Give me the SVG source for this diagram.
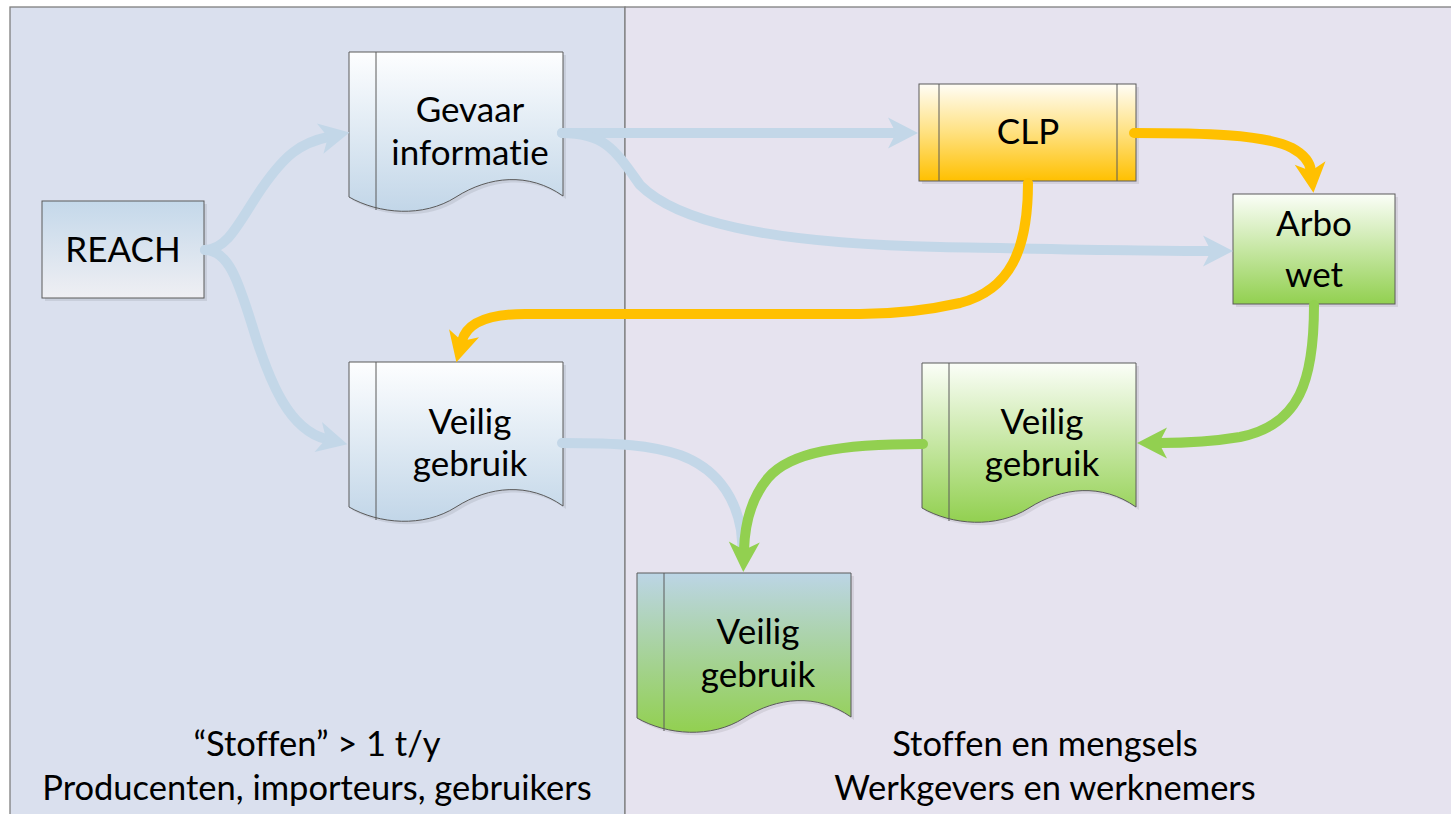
<svg xmlns="http://www.w3.org/2000/svg" width="1451" height="814" viewBox="0 0 1451 814">
<defs>
<linearGradient id="gDocBlue" x1="0" y1="0" x2="0" y2="1"><stop offset="0" stop-color="#fdfeff"/><stop offset="1" stop-color="#c2d6e8"/></linearGradient>
<linearGradient id="gReach" x1="0" y1="0" x2="0" y2="1"><stop offset="0" stop-color="#c4d8ea"/><stop offset="1" stop-color="#efeff3"/></linearGradient>
<linearGradient id="gClp" x1="0" y1="0" x2="0" y2="1"><stop offset="0" stop-color="#fffdf6"/><stop offset="0.5" stop-color="#ffe180"/><stop offset="1" stop-color="#ffc000"/></linearGradient>
<linearGradient id="gGreen" x1="0" y1="0" x2="0" y2="1"><stop offset="0" stop-color="#fbfef8"/><stop offset="1" stop-color="#92d050"/></linearGradient>
<linearGradient id="gMix" x1="0" y1="0" x2="0" y2="1"><stop offset="0" stop-color="#bcd5e6"/><stop offset="1" stop-color="#92d050"/></linearGradient>
<path id="docShape" d="M0,0 H214 V144 C180,120 140,124 107,145 C74,166 30,162 0,145 Z"/>
<marker id="aBlue" markerUnits="userSpaceOnUse" viewBox="-9 -16 32 32" refX="0" refY="0" markerWidth="32" markerHeight="32" orient="auto"><path d="M-8,-15.5 L22,0 L-8,15.5 L0,0 Z" fill="#c3d7e8"/></marker>
<marker id="aOrange" markerUnits="userSpaceOnUse" viewBox="-9 -16 32 32" refX="0" refY="0" markerWidth="32" markerHeight="32" orient="auto"><path d="M-8,-15.5 L22,0 L-8,15.5 L0,0 Z" fill="#ffc000"/></marker>
<marker id="aGreen" markerUnits="userSpaceOnUse" viewBox="-9 -16 32 32" refX="0" refY="0" markerWidth="32" markerHeight="32" orient="auto"><path d="M-8,-15.5 L22,0 L-8,15.5 L0,0 Z" fill="#92d050"/></marker>
</defs>
<style>
.pane{stroke:#7f7f7f;stroke-width:1.3}
.box{stroke:#5a5a5a;stroke-width:1}
.shadow{fill:#000;opacity:0.08}
.inner{stroke:#5a5a5a;stroke-width:1;fill:none}
.t{font-family:Lato,"Open Sans","Liberation Sans",sans-serif;font-size:35px;fill:#000;text-anchor:middle;font-variant-ligatures:none;font-feature-settings:"liga" 0,"clig" 0}
.lbl{font-family:Lato,"Open Sans","Liberation Sans",sans-serif;font-size:34.5px;fill:#000;text-anchor:middle;font-variant-ligatures:none;font-feature-settings:"liga" 0,"clig" 0}
.c{fill:none;stroke-width:10;stroke-linecap:round;stroke-linejoin:round}
.cb{stroke:#c3d7e8}
.co{stroke:#ffc000}
.cg{stroke:#92d050}
</style>
<rect x="0" y="0" width="1451" height="814" fill="#ffffff"/>
<g id="pane-left">
<rect class="pane" x="10" y="7" width="615" height="820" fill="#dae0ee"/>
<text class="lbl" x="317" y="756">“Stoffen” &gt; 1 t/y</text>
<text class="lbl" x="317" y="800">Producenten, importeurs, gebruikers</text>
</g>
<g id="pane-right">
<rect class="pane" x="625" y="7" width="840" height="820" fill="#e6e3ef"/>
<text class="lbl" x="1045" y="756">Stoffen en mengsels</text>
<text class="lbl" x="1045" y="800">Werkgevers en werknemers</text>
</g>
<g id="node-reach">
<rect class="shadow" x="45" y="204" width="162" height="97"/>
<rect class="box" x="42" y="201" width="162" height="97" fill="url(#gReach)"/>
<text class="t" x="123" y="262">REACH</text>
</g>
<g id="node-gevaar">
<use href="#docShape" class="shadow" transform="translate(352,55)"/>
<use href="#docShape" class="box" fill="url(#gDocBlue)" transform="translate(349,52)"/>
<line class="inner" x1="376" y1="52" x2="376" y2="210"/>
<text class="t" x="470" y="122">Gevaar</text>
<text class="t" x="470" y="165">informatie</text>
</g>
<g id="node-clp">
<rect class="shadow" x="922" y="87" width="217" height="97"/>
<rect class="box" x="919" y="84" width="217" height="97" fill="url(#gClp)"/>
<line class="inner" x1="939" y1="84" x2="939" y2="181"/>
<line class="inner" x1="1117" y1="84" x2="1117" y2="181"/>
<text class="t" x="1028" y="144">CLP</text>
</g>
<g id="node-arbo">
<rect class="shadow" x="1236" y="197" width="162" height="110"/>
<rect class="box" x="1233" y="194" width="162" height="110" fill="url(#gGreen)"/>
<text class="t" x="1314" y="236">Arbo</text>
<text class="t" x="1314" y="287">wet</text>
</g>
<g id="node-veilig-left">
<use href="#docShape" class="shadow" transform="translate(352,365)"/>
<use href="#docShape" class="box" fill="url(#gDocBlue)" transform="translate(349,362)"/>
<line class="inner" x1="376" y1="362" x2="376" y2="520"/>
<text class="t" x="470" y="434">Veilig</text>
<text class="t" x="470" y="476">gebruik</text>
</g>
<g id="node-veilig-right">
<use href="#docShape" class="shadow" transform="translate(925,366)"/>
<use href="#docShape" class="box" fill="url(#gGreen)" transform="translate(922,363)"/>
<line class="inner" x1="949" y1="363" x2="949" y2="521"/>
<text class="t" x="1042" y="434">Veilig</text>
<text class="t" x="1042" y="476">gebruik</text>
</g>
<g id="node-veilig-bottom">
<use href="#docShape" class="shadow" transform="translate(640,576)"/>
<use href="#docShape" class="box" fill="url(#gMix)" transform="translate(637,573)"/>
<line class="inner" x1="664" y1="573" x2="664" y2="731"/>
<text class="t" x="758" y="644">Veilig</text>
<text class="t" x="758" y="687">gebruik</text>
</g>
<g id="connectors">
<path class="c cb" d="M205,250 C228,250 240,220 262,188 C285,155 300,143 328,137" marker-end="url(#aBlue)"/>
<path class="c cb" d="M205,250 C228,250 238,280 252,325 C270,385 290,430 326,439" marker-end="url(#aBlue)"/>
<path class="c cb" d="M562,133 L896,133" marker-end="url(#aBlue)"/>
<path class="c cb" d="M562,133 C605,133 615,150 640,185 C675,220 760,243 940,247 C1050,249 1150,251 1211,251" marker-end="url(#aBlue)"/>
<path class="c cb" d="M562,443 C620,443 650,445 680,455 C715,468 735,495 741,530 L743,552"/>
<path class="c co" d="M1134,133 C1200,133 1265,134 1292,148 C1305,155 1310,162 1311,171" marker-end="url(#aOrange)"/>
<path class="c co" d="M1028,183 C1028,250 1010,290 960,303 C920,312 890,314 860,314 L525,314 C490,314 467,322 462,341" marker-end="url(#aOrange)"/>
<path class="c cg" d="M1314,305 C1314,380 1300,425 1240,437 C1210,442 1185,443 1159,443" marker-end="url(#aGreen)"/>
<path class="c cg" d="M923,444 C840,444 790,452 768,478 C752,497 745,520 744,550" marker-end="url(#aGreen)"/>
</g>
</svg>
